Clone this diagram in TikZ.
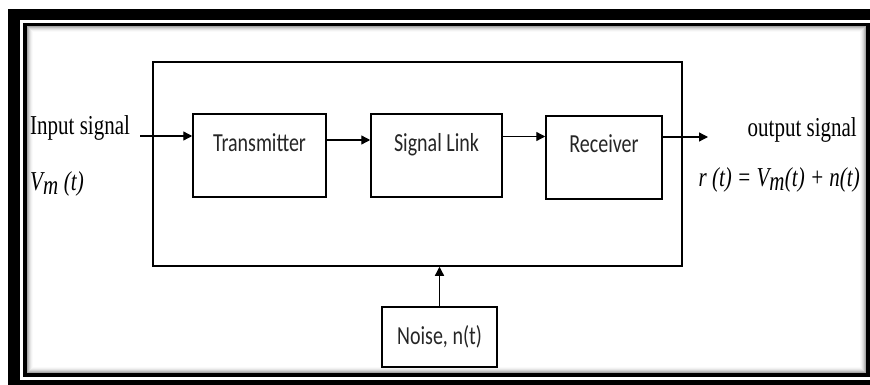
\documentclass[tikz,border=0pt]{standalone}
\usepackage{graphicx}
\usepackage{fontspec}
\setmainfont{Liberation Serif}
\newfontfamily\boxfont{Carlito}
\usetikzlibrary{arrows.meta}
\newcommand{\tall}[1]{\scalebox{1}[1.3]{#1}}
\tikzstyle{arrow} = [-{Triangle[length=9pt,width=9pt]},line width=1.3pt]
\tikzstyle{block} = [draw,line width=1.5pt,inner sep=0pt,minimum width=133pt,text height=38pt,text depth=45pt,font=\boxfont\fontsize{20}{24}\selectfont,text=black!85]
\tikzstyle{noisebox} = [block,minimum width=115pt,text height=37pt,text depth=23pt]
\tikzstyle{lbl} = [inner sep=0pt,font=\fontsize{21}{25}\selectfont]

\begin{document}
\begin{tikzpicture}[x=1pt,y=-1pt]
          \useasboundingbox (0,0) rectangle (870,385);
          \fill[black] (8,9) rectangle (870,385);
          \fill[white] (20,20) rectangle (870,380);
          \draw[line width=3.5pt] (25,24.5) rectangle (868,375);
          \foreach \i/\o in {1/0.35,2/0.25,3/0.16,4/0.1,5/0.05,6/0.02}
            \draw[line width=1pt,opacity=\o] (26.5+\i,26+\i) rectangle (866.5-\i,373.5-\i);

          \node[draw,line width=1.5pt,minimum width=529pt,minimum height=204pt] (sys) at (417.5,164) {};
          \node[block] (tx) at (259.5,155.5) {\tall{Transmitter}};
          \node[block,minimum width=131pt] (sl) at (436.5,155.5) {\tall{Signal Link}};
          \node[block,minimum width=116pt,text height=37pt,text depth=46pt] (rx) at (604,157.5) {\tall{Receiver}};
          \node[noisebox] (nz) at (439.5,337) {\tall{Noise, n(t)}};

          \node[lbl,anchor=base west] (insig) at (30,135) {\tall{Input signal}};
          \node[lbl,anchor=base west] (vm) at (30,190) {\tall{\textit{V$_{\textit{m}}$ (t)}}};
          \node[lbl,anchor=base east] (outsig) at (857,137) {\tall{output signal}};
          \node[lbl,anchor=base east] (rt) at (860,186) {\tall{\textit{r (t) = V$_{\textit{m}}$(t) + n(t)}}};

          \coordinate (in) at (140,136);
          \coordinate (out) at (708,137);

          \draw[arrow] (in) -- (in -| tx.west);
          \draw[arrow] ([yshift=15.5pt]tx.east) -- ([yshift=15.5pt]sl.west);
          \draw[arrow] ([yshift=19pt]sl.east) -- ([yshift=21pt]rx.west);
          \draw[arrow] (rx.east |- out) -- (out);
          \draw[arrow] (nz.north) -- (nz.north |- sys.south);
        \end{tikzpicture}
\end{document}
